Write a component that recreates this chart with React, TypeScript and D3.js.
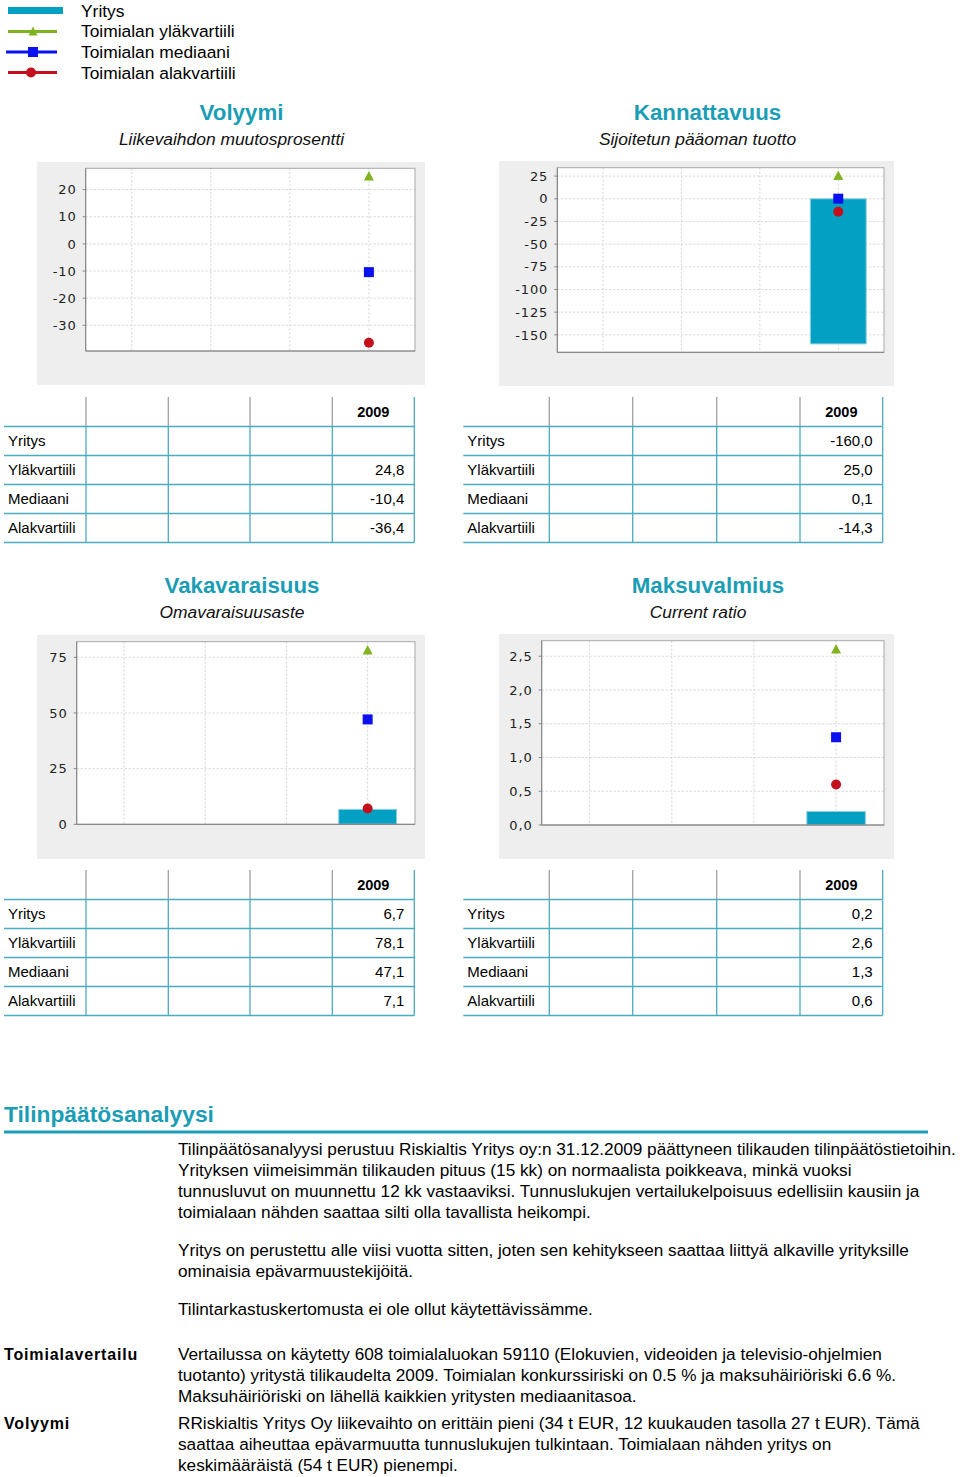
import React from "react";
import * as d3 from "d3";

const TEAL = "#1a9db5";
const LINE_TEAL = "#4aacbe";
const BAR_FILL = "#03a0c3";
const GREEN = "#80b321";
const BLUE = "#0a10ee";
const RED = "#c4101c";

const categories = ["", "", "", "2009"];
const legendNames = ["Yritys", "Toimialan yläkvartiili", "Toimialan mediaani", "Toimialan alakvartiili"];
const rowLabels = ["Yritys", "Yläkvartiili", "Mediaani", "Alakvartiili"];

// Volyymi – Liikevaihdon muutosprosentti
const volyymiYritys: (number | null)[] = [null, null, null, null];
const volyymiUpper: (number | null)[] = [null, null, null, 24.8];
const volyymiMedian: (number | null)[] = [null, null, null, -10.4];
const volyymiLower: (number | null)[] = [null, null, null, -36.4];
const volyymiTicks = [20, 10, 0, -10, -20, -30];

// Kannattavuus – Sijoitetun pääoman tuotto
const kannYritys: (number | null)[] = [null, null, null, -160.0];
const kannUpper: (number | null)[] = [null, null, null, 25.0];
const kannMedian: (number | null)[] = [null, null, null, 0.1];
const kannLower: (number | null)[] = [null, null, null, -14.3];
const kannTicks = [25, 0, -25, -50, -75, -100, -125, -150];

// Vakavaraisuus – Omavaraisuusaste
const vakaYritys: (number | null)[] = [null, null, null, 6.7];
const vakaUpper: (number | null)[] = [null, null, null, 78.1];
const vakaMedian: (number | null)[] = [null, null, null, 47.1];
const vakaLower: (number | null)[] = [null, null, null, 7.1];
const vakaTicks = [75, 50, 25, 0];

// Maksuvalmius – Current ratio
const maksuYritys: (number | null)[] = [null, null, null, 0.2];
const maksuUpper: (number | null)[] = [null, null, null, 2.6];
const maksuMedian: (number | null)[] = [null, null, null, 1.3];
const maksuLower: (number | null)[] = [null, null, null, 0.6];
const maksuTicks = [2.5, 2.0, 1.5, 1.0, 0.5, 0.0];

const para1 = [
  "Tilinpäätösanalyysi perustuu Riskialtis Yritys oy:n 31.12.2009 päättyneen tilikauden tilinpäätöstietoihin.",
  "Yrityksen viimeisimmän tilikauden pituus (15 kk) on normaalista poikkeava, minkä vuoksi",
  "tunnusluvut on muunnettu 12 kk vastaaviksi. Tunnuslukujen vertailukelpoisuus edellisiin kausiin ja",
  "toimialaan nähden saattaa silti olla tavallista heikompi.",
];
const para2 = [
  "Yritys on perustettu alle viisi vuotta sitten, joten sen kehitykseen saattaa liittyä alkaville yrityksille",
  "ominaisia epävarmuustekijöitä.",
];
const para3 = ["Tilintarkastuskertomusta ei ole ollut käytettävissämme."];
const para4 = [
  "Vertailussa on käytetty 608 toimialaluokan 59110 (Elokuvien, videoiden ja televisio-ohjelmien",
  "tuotanto) yritystä tilikaudelta 2009. Toimialan konkurssiriski on 0.5 % ja maksuhäiriöriski 6.6 %.",
  "Maksuhäiriöriski on lähellä kaikkien yritysten mediaanitasoa.",
];
const para5 = [
  "RRiskialtis Yritys Oy liikevaihto on erittäin pieni (34 t EUR, 12 kuukauden tasolla 27 t EUR). Tämä",
  "saattaa aiheuttaa epävarmuutta tunnuslukujen tulkintaan. Toimialaan nähden yritys on",
  "keskimääräistä (54 t EUR) pienempi.",
];

const SANS = "'Liberation Sans', Arial, sans-serif";
const TICKFONT = "'DejaVu Sans', sans-serif";

type Box = { x: number; y: number; w: number; h: number };
type Plot = { x0: number; x1: number; y0: number; y1: number };

function autoDomain(vals: (number | null)[], hasBar: boolean): [number, number] {
  const v = vals.filter((d): d is number => d != null);
  let lo = d3.min(v) as number;
  let hi = d3.max(v) as number;
  if (hasBar) {
    lo = Math.min(lo, 0);
    hi = Math.max(hi, 0);
  }
  const r = hi - lo;
  return [lo === 0 ? 0 : lo - 0.05 * r, hi === 0 ? 0 : hi + 0.05 * r];
}

function Chart(props: {
  panel: Box;
  plot: Plot;
  yritys: (number | null)[];
  upper: (number | null)[];
  median: (number | null)[];
  lower: (number | null)[];
  ticks: number[];
  fmt: (n: number) => string;
}) {
  const { panel, plot, yritys, upper, median, lower, ticks, fmt } = props;
  const hasBar = yritys.some((d) => d != null);
  const dom = autoDomain([...yritys, ...upper, ...median, ...lower], hasBar);
  const y = d3.scaleLinear().domain(dom).range([plot.y1, plot.y0]);
  const x = d3
    .scaleBand<number>()
    .domain(d3.range(categories.length))
    .range([plot.x0, plot.x1])
    .paddingInner(0.25)
    .paddingOuter(0.2083);
  const cx = (i: number) => (x(i) as number) + x.bandwidth() / 2;
  const bw = x.bandwidth() * 0.95;
  return (
    <g>
      <rect x={panel.x} y={panel.y} width={panel.w} height={panel.h} fill="#eeeeee" />
      <rect x={plot.x0} y={plot.y0} width={plot.x1 - plot.x0} height={plot.y1 - plot.y0} fill="#ffffff" />
      {ticks.map((t) => (
        <line key={"h" + t} x1={plot.x0} x2={plot.x1} y1={y(t)} y2={y(t)} stroke="#d4d4d4" strokeDasharray="2,2" />
      ))}
      {categories.map((c, i) => (
        <line key={"v" + i} x1={cx(i)} x2={cx(i)} y1={plot.y0} y2={plot.y1} stroke="#d4d4d4" strokeDasharray="2,2" />
      ))}
      {yritys.map((v, i) =>
        v == null ? null : (
          <rect
            key={"b" + i}
            x={cx(i) - bw / 2}
            y={Math.min(y(v), y(0))}
            width={bw}
            height={Math.abs(y(v) - y(0))}
            fill={BAR_FILL}
            stroke="#8dd0df"
            strokeWidth={1}
          />
        )
      )}
      <rect x={plot.x0} y={plot.y0} width={plot.x1 - plot.x0} height={plot.y1 - plot.y0} fill="none" stroke="#a8a8a8" />
      <line x1={plot.x0} x2={plot.x0} y1={plot.y0} y2={plot.y1} stroke="#808080" />
      <line x1={plot.x0} x2={plot.x1} y1={plot.y1} y2={plot.y1} stroke="#808080" />
      {ticks.map((t) => (
        <g key={"t" + t}>
          <line x1={plot.x0 - 3} x2={plot.x0} y1={y(t)} y2={y(t)} stroke="#888" />
          <text
            x={plot.x0 - 9}
            y={y(t)}
            dy="0.36em"
            textAnchor="end"
            fontFamily={TICKFONT}
            fontSize={13}
            letterSpacing={0.9}
            fill="#222"
          >
            {fmt(t)}
          </text>
        </g>
      ))}
      {upper.map((v, i) =>
        v == null ? null : (
          <path key={"u" + i} d={`M${cx(i)},${y(v) - 5.5}L${cx(i) + 5},${y(v) + 4}L${cx(i) - 5},${y(v) + 4}Z`} fill={GREEN} />
        )
      )}
      {median.map((v, i) =>
        v == null ? null : <rect key={"m" + i} x={cx(i) - 5} y={y(v) - 5} width={10} height={10} fill={BLUE} />
      )}
      {lower.map((v, i) => (v == null ? null : <circle key={"l" + i} cx={cx(i)} cy={y(v)} r={5} fill={RED} />))}
    </g>
  );
}

const fmtVal = (v: number | null) => (v == null ? "" : v.toFixed(1).replace(".", ","));

function Table(props: { cols: number[]; top: number; rows: (number | null)[][] }) {
  const { cols, top, rows } = props;
  const headH = 29.5;
  const rowH = 29;
  const yHead = top + headH;
  const last = cols[cols.length - 1];
  return (
    <g>
      {cols.slice(1).map((c, i) => (
        <line
          key={"hv" + i}
          x1={c}
          x2={c}
          y1={top}
          y2={yHead}
          stroke={i === cols.length - 2 ? LINE_TEAL : "#a0a0a0"}
          strokeWidth={1.3}
        />
      ))}
      {categories.map((c, i) => (
        <text
          key={"hd" + i}
          x={(cols[i + 1] + cols[i + 2]) / 2}
          y={top + 20}
          textAnchor="middle"
          fontFamily={SANS}
          fontWeight="bold"
          fontSize={14.5}
          fill="#000"
        >
          {c}
        </text>
      ))}
      {d3.range(rows.length + 1).map((r) => (
        <line
          key={"hl" + r}
          x1={cols[0]}
          x2={last}
          y1={yHead + r * rowH}
          y2={yHead + r * rowH}
          stroke={LINE_TEAL}
          strokeWidth={1.6}
        />
      ))}
      {cols.slice(1).map((c, i) => (
        <line
          key={"bv" + i}
          x1={c}
          x2={c}
          y1={yHead}
          y2={yHead + rows.length * rowH}
          stroke={LINE_TEAL}
          strokeWidth={1.3}
        />
      ))}
      {rows.map((vals, r) => (
        <g key={"r" + r}>
          <text x={cols[0] + 4} y={yHead + r * rowH + 19.5} fontFamily={SANS} fontSize={15} fill="#000">
            {rowLabels[r]}
          </text>
          {vals.map((v, i) => (
            <text
              key={i}
              x={cols[i + 2] - 10}
              y={yHead + r * rowH + 19.5}
              textAnchor="end"
              fontFamily={SANS}
              fontSize={15}
              fill="#000"
            >
              {fmtVal(v)}
            </text>
          ))}
        </g>
      ))}
    </g>
  );
}

function Titles(props: { cx: number; title: string; sub: string; y: number }) {
  return (
    <g>
      <text x={props.cx} y={props.y} textAnchor="middle" fontFamily={SANS} fontWeight="bold" fontSize={22.3} fill={TEAL}>
        {props.title}
      </text>
      <text
        x={props.cx - 10}
        y={props.y + 25}
        textAnchor="middle"
        fontFamily={SANS}
        fontStyle="italic"
        fontSize={17.4}
        fill="#111"
      >
        {props.sub}
      </text>
    </g>
  );
}

function Paragraph(props: { lines: string[]; x: number; y: number }) {
  return (
    <text fontFamily={SANS} fontSize={17.2} fill="#000">
      {props.lines.map((l, i) => (
        <tspan key={i} x={props.x} y={props.y + i * 21}>
          {l}
        </tspan>
      ))}
    </text>
  );
}

const fmtInt = (n: number) => d3.format("d")(n).replace("\u2212", "-");
const fmtDec = (n: number) => d3.format(".1f")(n).replace(".", ",").replace("\u2212", "-");

export default function App() {
  const leftCols = [4, 86, 168.3, 250, 332.3, 414.3];
  const rightCols = [463.3, 549.3, 632.7, 716.7, 800, 882.7];
  const dy = 473;
  const legendY = [10.5, 31.5, 52, 72.5];
  return (
    <div style={{ position: "absolute", left: 0, top: 0 }}>
      <svg width={960} height={1477} style={{ display: "block", background: "#fff" }}>
        {/* Legend */}
        <rect x={8} y={legendY[0] - 3.5} width={55} height={7} fill={BAR_FILL} />
        <line x1={8} x2={57} y1={legendY[1]} y2={legendY[1]} stroke={GREEN} strokeWidth={3} />
        <path d={`M33,${legendY[1] - 5}L37.5,${legendY[1] + 4}L28.5,${legendY[1] + 4}Z`} fill={GREEN} />
        <line x1={6} x2={57} y1={legendY[2]} y2={legendY[2]} stroke={BLUE} strokeWidth={3} />
        <rect x={28} y={legendY[2] - 5} width={10} height={10} fill={BLUE} />
        <line x1={8} x2={57} y1={legendY[3]} y2={legendY[3]} stroke={RED} strokeWidth={3} />
        <circle cx={31} cy={legendY[3]} r={5} fill={RED} />
        {legendNames.map((n, i) => (
          <text key={n} x={81} y={[16.5, 37, 57.5, 78.5][i]} fontFamily={SANS} fontSize={17.4} fill="#000">
            {n}
          </text>
        ))}

        <Titles cx={241.5} title="Volyymi" sub="Liikevaihdon muutosprosentti" y={120} />
        <Titles cx={707.5} title="Kannattavuus" sub="Sijoitetun pääoman tuotto" y={120} />
        <Chart
          panel={{ x: 37, y: 162, w: 388, h: 223 }}
          plot={{ x0: 85.7, x1: 415, y0: 168.3, y1: 351 }}
          yritys={volyymiYritys}
          upper={volyymiUpper}
          median={volyymiMedian}
          lower={volyymiLower}
          ticks={volyymiTicks}
          fmt={fmtInt}
        />
        <Chart
          panel={{ x: 499, y: 161, w: 395, h: 225 }}
          plot={{ x0: 557.3, x1: 884, y0: 167.7, y1: 352.3 }}
          yritys={kannYritys}
          upper={kannUpper}
          median={kannMedian}
          lower={kannLower}
          ticks={kannTicks}
          fmt={fmtInt}
        />
        <Table cols={leftCols} top={397} rows={[volyymiYritys, volyymiUpper, volyymiMedian, volyymiLower]} />
        <Table cols={rightCols} top={397} rows={[kannYritys, kannUpper, kannMedian, kannLower]} />

        <Titles cx={242} title="Vakavaraisuus" sub="Omavaraisuusaste" y={120 + dy} />
        <Titles cx={708} title="Maksuvalmius" sub="Current ratio" y={120 + dy} />
        <Chart
          panel={{ x: 37, y: 635, w: 388, h: 224 }}
          plot={{ x0: 76.7, x1: 415, y0: 641.7, y1: 824.3 }}
          yritys={vakaYritys}
          upper={vakaUpper}
          median={vakaMedian}
          lower={vakaLower}
          ticks={vakaTicks}
          fmt={fmtInt}
        />
        <Chart
          panel={{ x: 499, y: 634, w: 395, h: 225 }}
          plot={{ x0: 541.7, x1: 884, y0: 640.7, y1: 825 }}
          yritys={maksuYritys}
          upper={maksuUpper}
          median={maksuMedian}
          lower={maksuLower}
          ticks={maksuTicks}
          fmt={fmtDec}
        />
        <Table cols={leftCols} top={397 + dy} rows={[vakaYritys, vakaUpper, vakaMedian, vakaLower]} />
        <Table cols={rightCols} top={397 + dy} rows={[maksuYritys, maksuUpper, maksuMedian, maksuLower]} />

        {/* Tilinpäätösanalyysi */}
        <text x={4} y={1122} fontFamily={SANS} fontWeight="bold" fontSize={22.8} fill={TEAL}>
          Tilinpäätösanalyysi
        </text>
        <line x1={4} x2={928} y1={1132} y2={1132} stroke={TEAL} strokeWidth={3} />
        <Paragraph lines={para1} x={178} y={1155} />
        <Paragraph lines={para2} x={178} y={1256} />
        <Paragraph lines={para3} x={178} y={1315} />
        <text x={4} y={1360} fontFamily={SANS} fontWeight="bold" fontSize={16} letterSpacing={0.85} fill="#000">
          Toimialavertailu
        </text>
        <Paragraph lines={para4} x={178} y={1360} />
        <text x={4} y={1429} fontFamily={SANS} fontWeight="bold" fontSize={16} letterSpacing={0.85} fill="#000">
          Volyymi
        </text>
        <Paragraph lines={para5} x={178} y={1429} />
      </svg>
    </div>
  );
}
